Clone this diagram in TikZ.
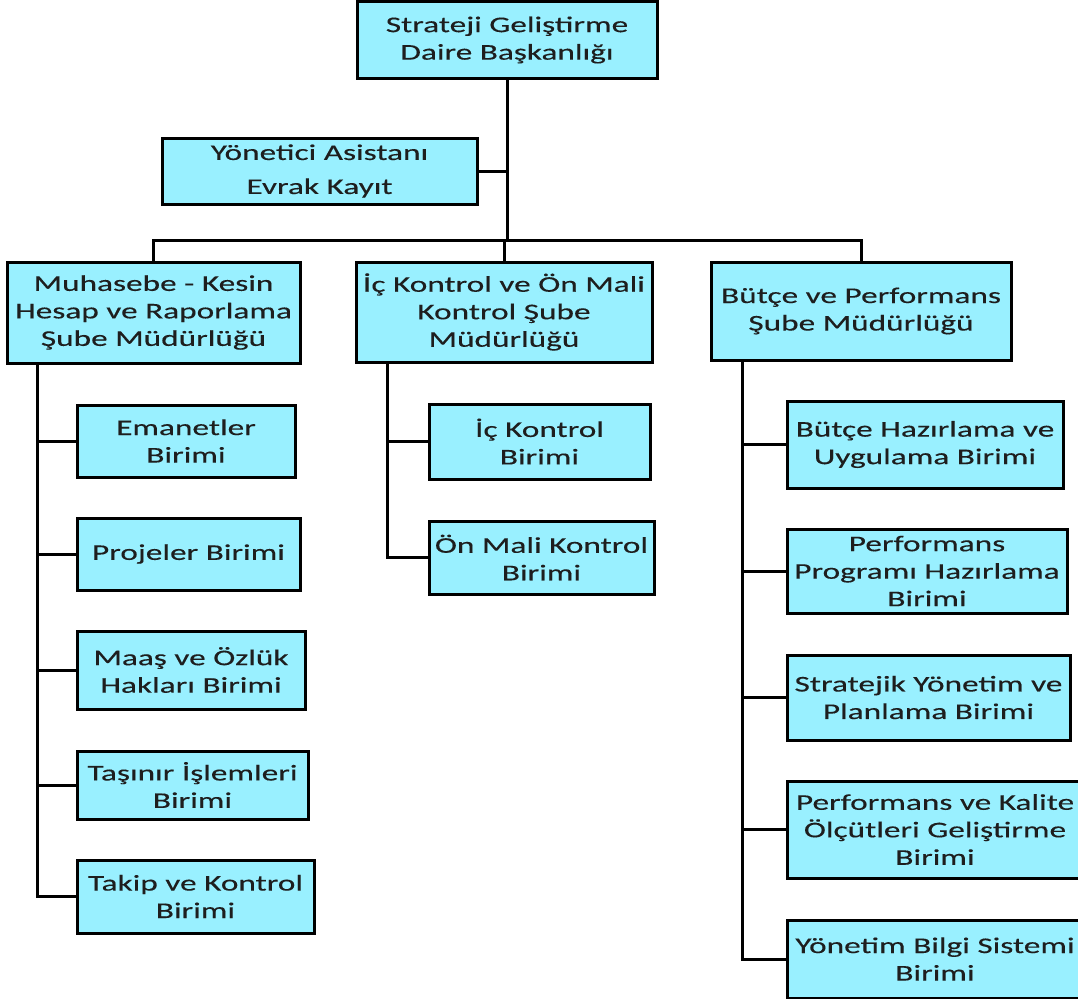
\documentclass[tikz,border=0pt]{standalone}
\usepackage{fontspec}
\setmainfont{Carlito}[FakeStretch=1.48,FakeBold=0.25]
\usetikzlibrary{positioning}
\definecolor{boxcyan}{RGB}{153,240,255}
\definecolor{inkgray}{RGB}{30,30,30}

\begin{document}
\begin{tikzpicture}[x=1pt,y=-1pt]
            \tikzset{unit/.style={draw, line width=3pt, fill=boxcyan, align=center,
                    inner sep=0pt, text=inkgray, font=\fontsize{22.5}{27.5}\selectfont}}
            \tikzset{link/.style={line width=3pt}}
            \useasboundingbox (0,0) rectangle (1078,998);
            % head and assistant
            \node[unit, minimum width=300pt, minimum height=76pt] (head) at (507,40)
                {Strateji Geliştirme\\Daire Başkanlığı};
            \node[unit, minimum width=315pt, minimum height=66pt,
                font=\fontsize{22.5}{34}\selectfont] (asst) at (319.5,171)
                {Yönetici Asistanı\\Evrak Kayıt};
            % branch offices
            \node[unit, minimum width=293pt, minimum height=101pt] (muh) at (153.5,312.5)
                {Muhasebe - Kesin\\Hesap ve Raporlama\\Şube Müdürlüğü};
            \node[unit, minimum width=296pt, minimum height=100pt] (ick) at (504,312)
                {İç Kontrol ve Ön Mali\\Kontrol Şube\\Müdürlüğü};
            \node[unit, minimum width=300pt, minimum height=98pt] (but) at (861,311)
                {Bütçe ve Performans\\Şube Müdürlüğü};
            % units of muhasebe
            \node[unit, minimum width=218pt, minimum height=72pt] (ema) at (186,441)
                {Emanetler\\Birimi};
            \node[unit, minimum width=223pt, minimum height=72pt] (pro) at (188.5,554)
                {Projeler Birimi};
            \node[unit, minimum width=228pt, minimum height=78pt] (maa) at (191,670)
                {Maaş ve Özlük\\Hakları Birimi};
            \node[unit, minimum width=231pt, minimum height=68pt] (tas) at (192.5,785)
                {Taşınır İşlemleri\\Birimi};
            \node[unit, minimum width=237pt, minimum height=73pt] (tak) at (195.5,896.5)
                {Takip ve Kontrol\\Birimi};
            % units of ic kontrol
            \node[unit, minimum width=221pt, minimum height=75pt] (icb) at (539.5,441.5)
                {İç Kontrol\\Birimi};
            \node[unit, minimum width=225pt, minimum height=73pt] (onm) at (541.5,557.5)
                {Ön Mali Kontrol\\Birimi};
            % units of butce
            \node[unit, minimum width=276pt, minimum height=87pt] (bhu) at (925,444.5)
                {Bütçe Hazırlama ve\\Uygulama Birimi};
            \node[unit, minimum width=280pt, minimum height=84pt] (ppb) at (927,571)
                {Performans\\Programı Hazırlama\\Birimi};
            \node[unit, minimum width=283pt, minimum height=85pt] (syp) at (928.5,697.5)
                {Stratejik Yönetim ve\\Planlama Birimi};
            \node[unit, minimum width=296pt, minimum height=97pt] (pkb) at (935,829.5)
                {Performans ve Kalite\\Ölçütleri Geliştirme\\Birimi};
            \node[unit, minimum width=296pt, minimum height=78pt] (ybs) at (935,959)
                {Yönetim Bilgi Sistemi\\Birimi};
            % connectors
            \coordinate (bus) at (507,240);
            \coordinate (muhs) at (37,363);
            \coordinate (icks) at (387,362);
            \coordinate (buts) at (742,360);
            \draw[link] (head.south) -- (bus);
            \draw[link] (asst.east) -- (asst.east -| bus);
            \draw[link] (muh.north) -- (muh.north |- bus) -- (but.north |- bus) -- (but.north);
            \draw[link] (ick.north) -- (ick.north |- bus);
            \draw[link] (muhs) |- (tak.west);
            \foreach \u in {ema,pro,maa,tas}
                \draw[link] (\u.west) -- (\u.west -| muhs);
            \draw[link] (icks) |- (onm.west);
            \draw[link] (icb.west) -- (icb.west -| icks);
            \draw[link] (buts) |- (ybs.west);
            \foreach \u in {bhu,ppb,syp,pkb}
                \draw[link] (\u.west) -- (\u.west -| buts);
\end{tikzpicture}
\end{document}
